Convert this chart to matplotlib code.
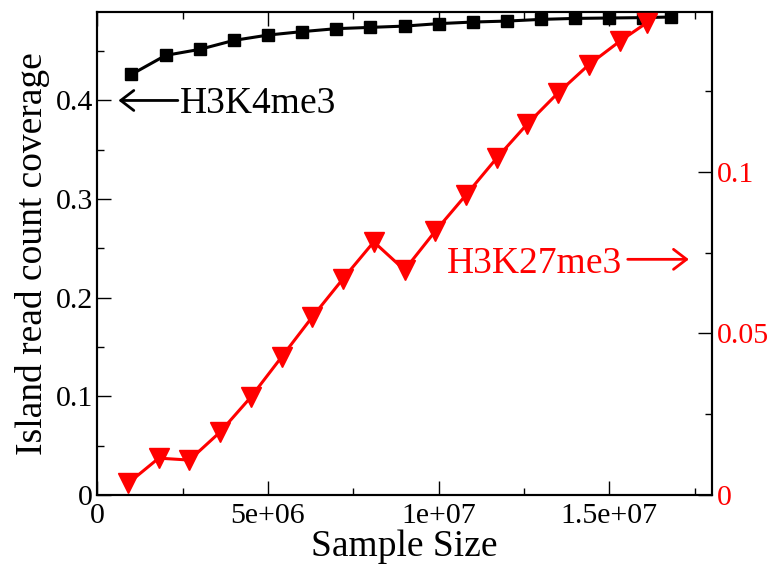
import matplotlib

matplotlib.use("Agg")
import matplotlib.pyplot as plt
from matplotlib.ticker import FuncFormatter, MultipleLocator

plt.rcParams["font.family"] = ["Liberation Serif", "DejaVu Serif"]

# H3K4me3 (left axis)
k4_size = [1e6, 2e6, 3e6, 4e6, 5e6, 6e6, 7e6, 8e6, 9e6, 10e6, 11e6, 12e6,
           13e6, 14e6, 15e6, 16e6, 16.8e6]
k4_cov = [0.4264, 0.4457, 0.4518, 0.4609, 0.4663, 0.4698, 0.4728, 0.4741,
          0.4754, 0.4779, 0.4795, 0.4805, 0.4822, 0.4832, 0.4836, 0.4840,
          0.4846]

# H3K27me3 (right axis)
k27_size = [0.9e6, 1.8e6, 2.7e6, 3.6e6, 4.5e6, 5.4e6, 6.3e6, 7.2e6, 8.1e6,
            9.0e6, 9.9e6, 10.8e6, 11.7e6, 12.6e6, 13.5e6, 14.4e6, 15.3e6,
            16.1e6]
k27_cov = [0.0036, 0.0114, 0.0108, 0.0195, 0.0303, 0.0427, 0.0551, 0.0669,
           0.0783, 0.0696, 0.0816, 0.0928, 0.1042, 0.1148, 0.1244, 0.1331,
           0.1403, 0.1461]

x_tick_labels = {0: "0", 5e6: "5e+06", 1e7: "1e+07", 1.5e7: "1.5e+07"}

fig = plt.figure(figsize=(7.71, 5.65), dpi=100)
ax = fig.add_axes([0.1262, 0.1239, 0.7969, 0.8554])
ax_r = ax.twinx()

ax.plot(k4_size, k4_cov, color="black", lw=2.2, marker="s", ms=8.5, zorder=3)
ax_r.plot(k27_size, k27_cov, color="red", lw=2.2, marker="v", ms=14, zorder=3)

ax.set_xlim(0, 1.8e7)
ax.set_ylim(0, 0.49)
ax_r.set_ylim(0, 0.1495)

ax.xaxis.set_major_locator(MultipleLocator(5e6))
ax.xaxis.set_minor_locator(MultipleLocator(2.5e6))
ax.xaxis.set_major_formatter(
    FuncFormatter(lambda v, p: x_tick_labels.get(round(v / 5e6) * 5e6, ""))
)
ax.yaxis.set_major_locator(MultipleLocator(0.1))
ax.yaxis.set_minor_locator(MultipleLocator(0.05))
ax.yaxis.set_major_formatter(FuncFormatter(lambda v, p: "0" if v == 0 else f"{v:g}"))
ax_r.yaxis.set_major_locator(MultipleLocator(0.05))
ax_r.yaxis.set_minor_locator(MultipleLocator(0.025))
ax_r.yaxis.set_major_formatter(FuncFormatter(lambda v, p: "0" if v == 0 else f"{v:g}"))

ax.tick_params(axis="x", which="both", direction="in", top=True, labelsize=21.5, pad=6)
ax.tick_params(axis="y", which="both", direction="in", right=False, labelsize=21.5, pad=3)
ax.tick_params(which="major", length=10, width=1)
ax.tick_params(which="minor", length=5, width=1)
ax_r.tick_params(axis="y", which="both", direction="in", labelsize=21.5, pad=4,
                 labelcolor="red")
ax_r.tick_params(which="major", length=10, width=1)
ax_r.tick_params(which="minor", length=5, width=1)

for a in (ax, ax_r):
    for s in a.spines.values():
        s.set_linewidth(1.5)

ax.set_xlabel("Sample Size", fontsize=27, labelpad=0)
ax.set_ylabel("Island read count coverage", fontsize=27, labelpad=4)

# labels with arrows
ax.annotate("", xy=(0.62e6, 0.4), xytext=(2.36e6, 0.4),
            arrowprops=dict(arrowstyle="->,head_length=0.47,head_width=0.36",
                            color="black", lw=2, mutation_scale=20,
                            shrinkA=0, shrinkB=0))
ax.text(2.43e6, 0.3868, "H3K4me3", fontsize=27, color="black", va="baseline")

ax_r.annotate("", xy=(17.33e6, 0.0729), xytext=(15.54e6, 0.0729),
              arrowprops=dict(arrowstyle="->,head_length=0.47,head_width=0.36",
                              color="red", lw=2, mutation_scale=20,
                              shrinkA=0, shrinkB=0))
ax_r.text(10.24e6, 0.0688, "H3K27me3", fontsize=27, color="red", va="baseline")

fig.savefig("out.png", dpi=100)
